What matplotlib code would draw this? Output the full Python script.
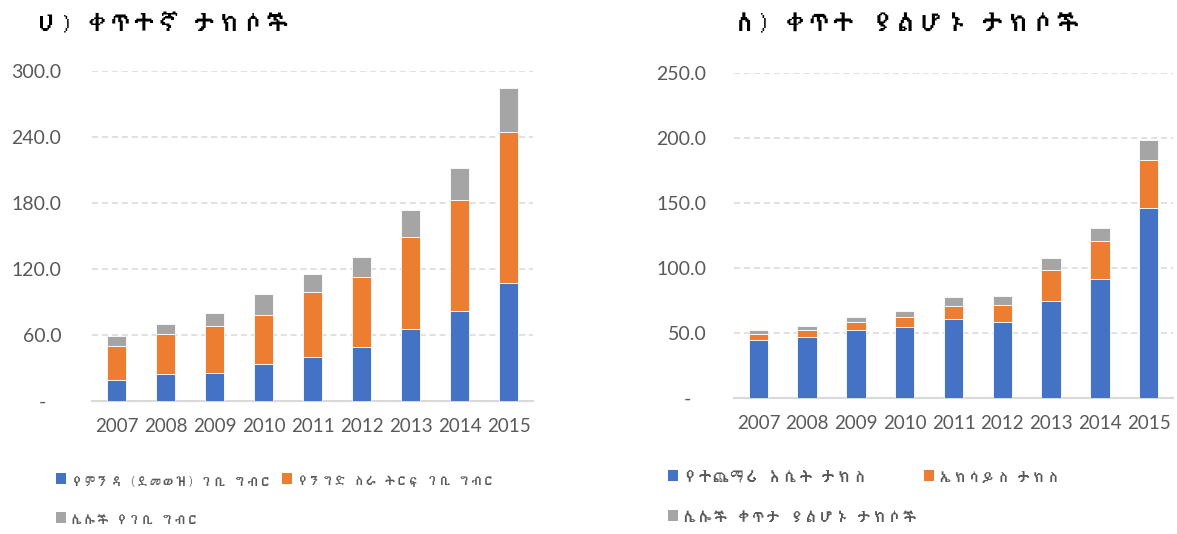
import matplotlib
matplotlib.use("Agg")
import matplotlib.pyplot as plt
from matplotlib import font_manager, ft2font
from matplotlib.patches import Patch
import numpy as np

# 年
years = ["2007", "2008", "2009", "2010", "2011", "2012", "2013", "2014", "2015"]

# ሀ) ቀጥተኛ ታክሶች
direct_labels = ["የምንዳ (ደመወዝ) ገቢ ግብር", "የንግድ ስራ ትርፍ ገቢ ግብር", "ሌሎች የገቢ ግብር"]
direct_salary = [19.4, 24.2, 25.8, 33.6, 40.3, 49.1, 65.5, 82.1, 107.6]
direct_business = [30.6, 36.7, 42.4, 44.9, 58.8, 63.3, 83.9, 100.6, 136.9]
direct_other = [9.4, 9.4, 12.1, 18.5, 16.1, 18.8, 23.9, 29.4, 40.0]
direct_ticks = [0, 60, 120, 180, 240, 300]

# ለ) ቀጥተ ያልሆኑ ታክሶች
indirect_labels = ["የተጨማሪ እሴት ታክስ", "ኤክሳይስ ታክስ", "ሌሎች ቀጥታ ያልሆኑ ታክሶች"]
indirect_vat = [44.7, 47.0, 52.4, 54.7, 60.8, 58.5, 74.9, 91.9, 145.8]
indirect_excise = [4.6, 5.4, 6.1, 7.4, 10.0, 13.1, 23.7, 28.7, 37.5]
indirect_other = [3.1, 3.3, 4.1, 4.9, 6.7, 6.9, 9.2, 9.8, 14.9]
indirect_ticks = [0, 50, 100, 150, 200, 250]

colors = ["#4472C4", "#ED7D31", "#A5A5A5"]


# ግዕዝ ፊደል ያለውን ፎንት መፈለግ (Mono ያልሆነውን ቅድሚያ)
def find_font(cp):
    found = []
    for f in font_manager.fontManager.ttflist:
        try:
            if cp in ft2font.FT2Font(f.fname).get_charmap():
                found.append(f.name)
        except Exception:
            pass
    plain = [n for n in found if "Mono" not in n]
    if plain:
        return plain[0]
    return found[0] if found else None


eth = find_font(0x1200)
plt.rcParams["font.family"] = ["Lato", "DejaVu Sans"]
eth_fam = ([eth] if eth else []) + ["Lato", "DejaVu Sans"]

W, H = 1177, 534
fig = plt.figure(figsize=(W / 100, H / 100), dpi=100)
renderer = fig.canvas.get_renderer()


# ጽሁፉን በማጣቀሻው ስፋት ልክ ማድረግ
def fit(t, target, fs, cap):
    w = t.get_window_extent(renderer).width
    if w > 0:
        t.set_fontsize(min(cap, fs * target / w))


def draw(rect, series, ticks, ypad, title, title_pos, labels, legend_pos):
    ax = fig.add_axes(rect)
    x = np.arange(len(years))
    bottom = np.zeros(len(years))
    for vals, c in zip(series, colors):
        ax.bar(x, vals, 0.4, bottom=bottom, color=c, edgecolor="white", linewidth=0.6, zorder=3)
        bottom = bottom + np.array(vals)
    ax.set_xlim(-0.5, len(years) - 0.5)
    ax.set_ylim(0, ticks[-1])
    ax.set_yticks(ticks)
    ax.set_yticklabels(["-   "] + [f"{t:.1f}" for t in ticks[1:]])
    ax.set_xticks(x)
    ax.set_xticklabels(years)
    ax.tick_params(length=0, labelsize=13.5, labelcolor="#595959")
    ax.tick_params(axis="y", labelsize=14, pad=ypad)
    ax.tick_params(axis="x", pad=12)
    ax.grid(axis="y", color="#D9D9D9", linestyle=(0, (4, 2.5)), linewidth=1.1, zorder=0)
    for s in ["top", "right", "left"]:
        ax.spines[s].set_visible(False)
    ax.spines["bottom"].set_color("#D9D9D9")
    ax.spines["bottom"].set_linewidth(1.5)
    tx, tw = title_pos
    t = fig.text(tx / W, 1 - 24 / H, title, fontsize=20, fontweight="bold",
                 family=eth_fam, va="center", ha="left", color="black")
    fit(t, tw, 20, 22)
    for lab, c, (px, py, pw) in zip(labels, colors, legend_pos):
        leg = fig.legend(handles=[Patch(facecolor=c)], labels=[lab], loc="center left",
                         bbox_to_anchor=(px / W, 1 - py / H), frameon=False, borderpad=0,
                         borderaxespad=0, handlelength=0.55, handleheight=0.55,
                         handletextpad=0.3, fontsize=13, labelcolor="#595959")
        txt = leg.get_texts()[0]
        txt.set_family(eth_fam)
        fit(txt, pw, 13, 14)
    return ax


draw([92 / W, 1 - 401 / H, 441 / W, 330 / H],
     [direct_salary, direct_business, direct_other], direct_ticks, 22,
     "ሀ) ቀጥተኛ ታክሶች", (37, 253), direct_labels,
     [(56, 480, 201), (282, 480, 198), (56, 519, 128)])

draw([734 / W, 1 - 398 / H, 439 / W, 325 / H],
     [indirect_vat, indirect_excise, indirect_other], indirect_ticks, 20,
     "ለ) ቀጥተ ያልሆኑ ታክሶች", (733, 348), indirect_labels,
     [(668, 477, 184), (924, 477, 121), (668, 517, 234)])

fig.savefig("out.png", dpi=100)
